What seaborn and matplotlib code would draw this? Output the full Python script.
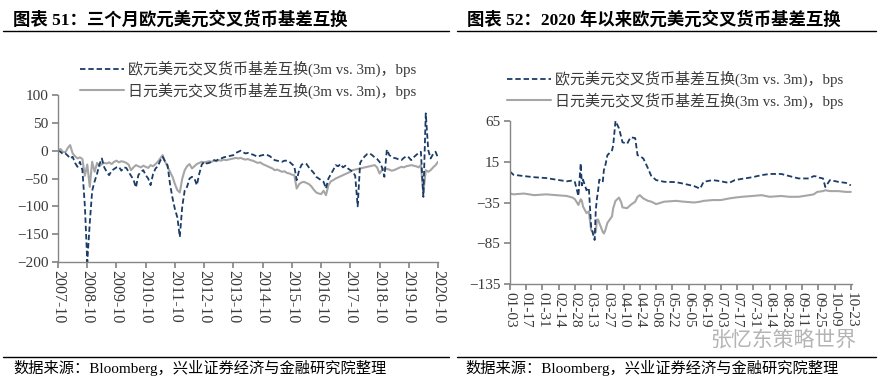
import numpy as np
import pandas as pd
import matplotlib
matplotlib.use("Agg")
import matplotlib.pyplot as plt
import matplotlib.dates as mdates
from matplotlib.lines import Line2D
import seaborn as sns

# 图表51: 月度读数, 2007-10 .. 2020-10 (bps)
long_start = "2007-10-01"
eur_long = [
    0, -2, -6,
    -5, -9, -14, -11, -22, -29, -20, -35, -100, -200, -130, -72,
    -55, -41, -25, -14, -30, -38, -44, -36, -33, -30, -29, -36,
    -30, -31, -38, -45, -52, -66, -44, -38, -35, -44, -50, -62,
    -42, -32, -28, -18, -11, -20, -26, -60, -85, -105, -120, -155,
    -100, -71, -65, -50, -47, -50, -62, -41, -25, -20, -23, -22,
    -20, -17, -18, -15, -14, -12, -11, -10, -9, -8, -4, -2,
    0, -3, -5, -4, -6, -7, -9, -11, -9, -8, -7, -8,
    -10, -14, -17, -18, -19, -20, -18, -18, -20, -24, -28, -53,
    -35, -25, -23, -24, -30, -35, -40, -47, -50, -53, -56, -68,
    -50, -42, -35, -26, -28, -24, -30, -27, -32, -35, -38, -45,
    -100, -22, -15, -10, -6, -5, -8, -12, -15, -20, -30, -47,
    2, -8, -11, -13, -14, -16, -17, -13, -10, -12, -17, -12,
    -8, -4, -2, -83, 67, 1, -14, -6, -2, -13,
]
jpy_long = [
    0, 3, -2,
    -3, 5, 10, -5, -10, -14, -12, -15, -45, -25, -65, -20,
    -38, -22, -28, -24, -22, -23, -21, -24, -20, -18, -21, -19,
    -20, -22, -25, -35, -30, -26, -28, -30, -27, -29, -31, -26,
    -28, -24, -20, -14, -8, -20, -29, -38, -47, -60, -71, -75,
    -50, -35, -28, -24, -32, -28, -24, -22, -20, -21, -20, -19,
    -20, -18, -19, -17, -18, -16, -17, -16, -15, -14, -13, -14,
    -13, -15, -16, -15, -17, -18, -20, -22, -21, -24, -26, -28,
    -30, -32, -35, -34, -36, -38, -37, -40, -41, -43, -44, -68,
    -60, -57, -56, -58, -60, -64, -70, -75, -77, -78, -72, -80,
    -62, -55, -53, -50, -48, -46, -44, -42, -40, -38, -35, -34,
    -33, -32, -31, -30, -29, -28, -27, -26, -30, -41, -35, -32,
    -33, -34, -36, -35, -33, -31, -29, -30, -28, -27, -26, -27,
    -28, -30, -26, -77, -35, -38, -35, -30, -26, -20,
]

# 图表52: 2020 年以来 (bps)
short_dates = [
    "01-03", "01-06", "01-15", "01-24", "02-03", "02-12", "02-21", "02-26",
    "02-28", "03-02", "03-04", "03-05", "03-06", "03-09", "03-11", "03-13",
    "03-16", "03-17", "03-18", "03-19", "03-20", "03-23", "03-24", "03-25",
    "03-27", "03-31", "04-01", "04-03", "04-06", "04-08", "04-09", "04-13",
    "04-16", "04-20", "04-22", "04-24", "04-27", "05-01", "05-04", "05-06",
    "05-08", "05-15", "05-25", "06-01", "06-10", "06-15", "06-18", "06-26",
    "07-03", "07-10", "07-15", "07-21", "07-30", "08-07", "08-14", "08-24",
    "08-31", "09-08", "09-17", "09-21", "09-23", "09-24", "09-29", "10-01",
    "10-05", "10-12", "10-19", "10-23",
]
eur_short = [
    3, -1, -2.6, -4, -5, -7, -9, -8,
    -10, -27, 13, -14, -7, -20, -17, -65,
    -81, -44, -30, -20, -7, -10, 5, 9,
    23, 29, 35, 65, 56, 45, 39, 37,
    45, 44, 23, 22, 19, 7, -3, -5,
    -7.5, -9.6, -10, -12, -15, -18, -9.6, -7.5,
    -9, -11, -7.5, -6, -4, -1.4, 0, 0,
    -2.6, -5.5, -5.5, -2.6, -3, -4, -5.5, -16,
    -7.5, -9.6, -11, -14,
]
jpy_short = [
    -24, -25, -24, -26, -25, -26, -27, -29,
    -31, -38, -31, -33, -40, -48, -46, -69,
    -73, -71, -56, -56, -60, -71, -73, -70,
    -60, -52, -42, -33, -29, -35, -41, -42,
    -38, -34, -28, -26, -30, -33, -34, np.nan,
    -37, -34, -33, -34, -35, -34, -33, -32,
    -32, -30, -29, -28, -27, -26, -28, -27,
    -28, -28, -26, -25, np.nan, -22, -21, -20,
    -21, -21, -22, -22,
]

LABEL_EUR = "欧元美元交叉货币基差互换(3m vs. 3m)，bps"
LABEL_JPY = "日元美元交叉货币基差互换(3m vs. 3m)，bps"
NAVY = "#1b3c66"
GREY = "#a6a6a6"
AXIS_GREY = "#868686"
TEXT_GREY = "#3a3a3a"
FONTS = ["Liberation Serif", "Noto Sans CJK SC", "DejaVu Sans"]

sns.set_theme(style="white")
plt.rcParams.update({
    "font.family": FONTS,
    "axes.spines.top": False,
    "axes.spines.right": False,
    "axes.edgecolor": AXIS_GREY,
    "axes.linewidth": 1.0,
    "xtick.color": AXIS_GREY,
    "ytick.color": AXIS_GREY,
    "xtick.labelcolor": TEXT_GREY,
    "ytick.labelcolor": TEXT_GREY,
    "xtick.bottom": True,
    "ytick.left": True,
    "xtick.major.size": 4,
    "ytick.major.size": 4,
    "ytick.labelsize": 11,
})

long_df = pd.DataFrame({
    "date": pd.date_range(long_start, periods=len(eur_long), freq="MS"),
    "eur": eur_long,
    "jpy": jpy_long,
})
short_df = pd.DataFrame({
    "date": pd.to_datetime(["2020-" + d for d in short_dates]),
    "eur": eur_short,
    "jpy": jpy_short,
})

fig = plt.figure(figsize=(8.91, 3.82), dpi=100)
W, H = 891, 382


def px_axes(x0, y0, x1, y1):
    return fig.add_axes([x0 / W, 1 - y1 / H, (x1 - x0) / W, (y1 - y0) / H])


def draw_pair(ax, df):
    sns.lineplot(data=df, x="date", y="jpy", ax=ax, color=GREY, linewidth=1.5,
                 label=LABEL_JPY, legend=False)
    sns.lineplot(data=df, x="date", y="eur", ax=ax, color=NAVY, linewidth=1.3,
                 linestyle=(0, (3, 1.6)), label=LABEL_EUR, legend=False)
    ax.set_xlabel("")
    ax.set_ylabel("")
    ax.grid(False)
    ax.tick_params(axis="y", pad=3)


def rotate_xlabels(ax, size):
    ax.tick_params(axis="x", pad=2, labelsize=size)
    for lab in ax.get_xticklabels():
        lab.set_rotation(-90)
        lab.set_va("top")


def add_legend(ax, x, y):
    handles = [
        Line2D([], [], color=NAVY, linewidth=1.3, linestyle=(0, (3, 1.6))),
        Line2D([], [], color=GREY, linewidth=1.5),
    ]
    ax.legend(handles, [LABEL_EUR, LABEL_JPY], loc="upper left",
              bbox_to_anchor=(x / W, 1 - y / H), bbox_transform=fig.transFigure,
              frameon=False, fontsize=10.8, handlelength=2.9, handletextpad=0.3,
              labelspacing=0.35, borderpad=0, borderaxespad=0,
              labelcolor=TEXT_GREY)


# 左图
ax1 = px_axes(58, 95, 438, 262)
draw_pair(ax1, long_df)
ax1.set_ylim(-200, 100)
ax1.set_yticks(np.arange(-200, 101, 50))
ax1.set_xlim(pd.Timestamp("2007-10-01"), pd.Timestamp("2020-10-01"))
ax1.set_xticks(pd.date_range("2007-10-01", "2020-10-01", freq="12MS"))
ax1.xaxis.set_major_formatter(mdates.DateFormatter("%Y-%m"))
rotate_xlabels(ax1, 11.5)
add_legend(ax1, 80, 61)

# 右图
ax2 = px_axes(510, 121, 852, 284)
draw_pair(ax2, short_df)
ax2.set_ylim(-135, 65)
ax2.set_yticks([65, 15, -35, -85, -135])
ax2.set_xlim(pd.Timestamp("2020-01-03"), pd.Timestamp("2020-10-24"))
ax2.set_xticks(pd.date_range("2020-01-03", "2020-10-23", freq="14D"))
ax2.xaxis.set_major_formatter(mdates.DateFormatter("%m-%d"))
rotate_xlabels(ax2, 11)
add_legend(ax2, 507, 71)

# 标题、分隔线、来源
title_kw = dict(fontsize=12.5, fontweight="bold", color="black", va="center",
                family=FONTS)
fig.text(13 / W, 1 - 19.5 / H, "图表 51：三个月欧元美元交叉货币基差互换", **title_kw)
fig.text(467 / W, 1 - 19.5 / H, "图表 52：2020 年以来欧元美元交叉货币基差互换", **title_kw)

for x0, x1 in [(3, 449), (457, 876)]:
    for y in (31, 357):
        fig.add_artist(Line2D([x0 / W, x1 / W], [1 - y / H, 1 - y / H],
                              color="black", linewidth=1.0))

src_kw = dict(fontsize=11, color="black", va="center", family=FONTS)
fig.text(13 / W, 1 - 368 / H, "数据来源：Bloomberg，兴业证券经济与金融研究院整理", **src_kw)
fig.text(465 / W, 1 - 368 / H, "数据来源：Bloomberg，兴业证券经济与金融研究院整理", **src_kw)

fig.text(710 / W, 1 - 340 / H, "张忆东策略世界", fontsize=15, color="#b4b4b4",
         va="center", family=["Noto Sans CJK SC", "DejaVu Sans"])

fig.savefig("out.png", dpi=100)
